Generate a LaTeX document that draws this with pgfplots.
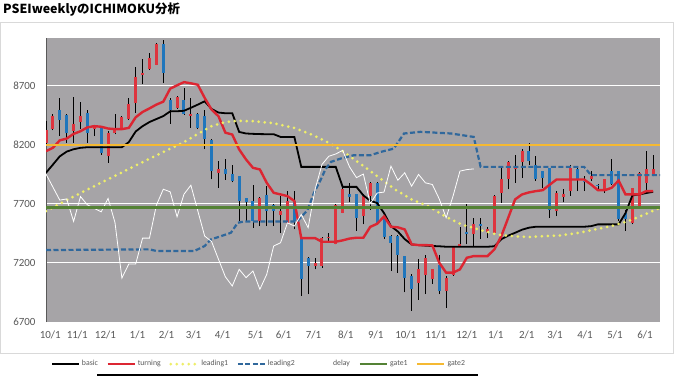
\documentclass[border=0pt]{standalone}
\usepackage{pgfplots}
\usepackage{pgfplotstable}
\pgfplotsset{compat=1.18}
\usepackage{fontspec}
\setmainfont{Carlito}
\newfontfamily\cjk{Noto Sans CJK JP}
\definecolor{bggray}{RGB}{166,164,167}
\definecolor{txtgray}{RGB}{89,89,89}
\definecolor{cred}{RGB}{222,52,62}
\definecolor{cblue}{RGB}{32,118,188}
\definecolor{tred}{RGB}{220,38,50}
\definecolor{lyellow}{RGB}{238,238,105}
\definecolor{lblue}{RGB}{48,104,156}
\definecolor{ggreen}{RGB}{84,130,53}
\definecolor{gorange}{RGB}{245,185,50}

\pgfplotstableread{
i O H L C
0 8210 8400 8200 8320
1 8330 8460 8320 8445
2 8490 8595 8270 8410
3 8450 8460 8215 8300
4 8312 8600 8215 8377
5 8390 8560 8330 8445
6 8470 8490 8215 8300
7 8330 8360 8270 8345
8 8350 8360 8115 8130
9 8100 8310 8045 8300
10 8295 8460 8285 8320
11 8335 8440 8330 8430
12 8415 8595 8410 8540
13 8550 8855 8470 8770
14 8790 8925 8710 8800
15 8840 8970 8830 8930
16 8875 9055 8870 9050
17 9050 9080 8720 8805
18 8580 8595 8375 8495
19 8510 8610 8500 8600
20 8580 8680 8450 8460
21 8445 8595 8340 8460
22 8455 8470 8330 8340
23 8440 8490 8160 8245
24 8240 8245 7905 7975
25 7960 8060 7835 7990
26 7995 8080 7900 7950
27 7950 8030 7880 7890
28 7930 7935 7555 7720
29 7750 7750 7555 7710
30 7720 7855 7495 7555
31 7555 7755 7510 7750
32 7770 7850 7510 7640
33 7690 7695 7510 7640
34 7600 7765 7455 7640
35 7540 7805 7525 7720
36 7720 7805 7483 7555
37 7400 7400 6920 7060
38 7245 7250 6935 7175
39 7175 7245 7145 7200
40 7175 7415 7160 7410
41 7410 7455 7370 7420
42 7360 7695 7355 7690
43 7625 7835 7620 7820
44 7780 7875 7710 7760
45 7780 7780 7470 7580
46 7595 7780 7525 7765
47 7765 7880 7650 7875
48 7875 7880 7525 7540
49 7580 7610 7400 7415
50 7430 7435 7130 7370
51 7430 7435 7115 7270
52 7255 7260 6950 7075
53 7090 7105 6795 6975
54 7030 7235 6890 7145
55 7100 7270 6935 7240
56 7060 7150 7020 7145
57 7185 7270 6935 6960
58 6960 7090 6820 7075
59 7100 7345 7090 7340
60 7340 7500 7340 7360
61 7460 7695 7355 7440
62 7440 7580 7340 7525
63 7525 7580 7400 7510
64 7460 7500 7410 7490
65 7455 7770 7450 7765
66 7790 8005 7705 7905
67 7910 8060 7820 8050
68 7990 8115 7875 8000
69 8050 8160 7920 8145
70 8145 8210 8030 8060
71 8030 8100 7890 7905
72 7975 7975 7835 7920
73 8000 8005 7580 7650
74 7640 7805 7595 7790
75 7760 7820 7710 7780
76 7805 8030 7765 8000
77 7990 8000 7805 7900
78 7890 7935 7805 7880
79 7910 7975 7890 7930
80 7860 7865 7805 7855
81 7820 7905 7790 7905
82 7975 8075 7860 7865
83 7975 7980 7555 7570
84 7620 7650 7470 7570
85 7540 7835 7525 7835
86 7680 7965 7665 7960
87 7875 8145 7780 7990
88 7945 8115 7930 7990
}\candles

\pgfplotstableread{
i basic turning
0 7961 8143
1 8030 8172
2 8100 8235
3 8140 8250
4 8160 8290
5 8172 8312
6 8177 8345
7 8177 8355
8 8177 8350
9 8177 8335
10 8177 8330
11 8177 8330
12 8220 8340
13 8310 8430
14 8355 8475
15 8390 8505
16 8415 8537
17 8440 8562
18 8480 8672
19 8481 8700
20 8485 8727
21 8510 8717
22 8537 8705
23 8565 8594
24 8500 8495
25 8470 8439
26 8464 8300
27 8464 8284
28 8306 8158
29 8293 8073
30 8290 8003
31 8288 7989
32 8287 7876
33 8287 7792
34 8264 7778
35 8264 7764
36 8264 7722
37 8011 7409
38 8011 7409
39 8011 7409
40 8011 7378
41 8011 7378
42 8011 7378
43 7842 7390
44 7842 7405
45 7842 7412
46 7770 7412
47 7725 7504
48 7705 7530
49 7620 7592
50 7510 7505
51 7465 7500
52 7400 7482
53 7355 7356
54 7350 7350
55 7345 7350
56 7342 7347
57 7340 7201
58 7336 7117
59 7336 7117
60 7336 7145
61 7336 7243
62 7336 7257
63 7336 7257
64 7336 7257
65 7340 7314
66 7400 7426
67 7430 7581
68 7454 7736
69 7480 7778
70 7497 7795
71 7505 7806
72 7505 7814
73 7505 7860
74 7505 7904
75 7505 7904
76 7505 7904
77 7505 7904
78 7505 7904
79 7510 7862
80 7525 7814
81 7525 7814
82 7525 7834
83 7525 7896
84 7620 7778
85 7770 7778
86 7778 7778
87 7790 7806
88 7800 7806
}\lines

\pgfplotstableread{
i v
0 7637
5 7790
10 7935
15 8080
20 8220
22 8290
24 8355
26 8390
28 8400
30 8397
33 8380
36 8340
38.5 8284
41 8214
43 8144
45.7 8031
48 7933
50.6 7820
53 7736
55.4 7679
57.8 7595
60.2 7525
62.7 7482
65.3 7440
67.5 7426
70 7418
72.3 7426
74.7 7432
77.2 7454
79.6 7482
82 7511
84.4 7553
86.8 7609
89 7665
}\leadone

\pgfplotstableread{
i v
0 7308
15 7314
16 7300
21.5 7300
23 7342
23.9 7398
25.4 7426
26.8 7454
27.8 7539
28.8 7550
36.4 7550
37.9 7645
38.8 7786
39.8 7900
40.5 7990
41.3 8053
42.7 8081
44.6 8109
47 8109
48.5 8137
50.4 8165
51.9 8293
54.3 8307
58.7 8293
62 8264
63 8011
78 8011
79 7941
89 7941
}\leadtwo

\pgfplotstableread{
i v
0 7950
1 7840
2 7730
3 7740
4 7550
5 7760
6 7690
7 7660
8 7631
9 7744
10 7540
11 7071
12 7190
13 7190
14 7409
15 7409
16 7687
17 7822
18 7800
19 7589
20 7780
21 7856
22 7640
23 7426
24 7380
25 7230
26 7082
27 7004
28 7145
29 7075
30 7131
31 6976
32 7103
33 7342
34 7370
35 7538
36 7511
37 7609
38 7497
39 7820
40 8031
41 8101
42 8120
43 8150
44 8011
45 7920
46 7950
47 7700
48 7790
49 7798
50 8017
51 7898
52 7961
53 7848
54 7947
55 7876
56 7862
57 7740
58 7581
59 7764
60 7975
61 7988
62 7994
}\delay

\begin{document}
\begin{tikzpicture}
\fill[white] (-46bp,-63bp) rectangle (636bp,322bp);
\path[use as bounding box] (-46bp,-63bp) rectangle (636bp,322bp);
\draw[draw={rgb,255:red,217;green,217;blue,217}, line width=1bp] (-45bp,-31bp) rectangle (627bp,299bp);
\node[anchor=west, inner sep=0pt, font=\cjk\bfseries\fontsize{12.5}{14}\selectfont] at (-43bp,312bp) {PSEIweeklyのICHIMOKU分析};
\draw[black, line width=1.2bp] (51bp,-53bp) -- (432bp,-53bp);
\begin{axis}[
  at={(0,0)}, anchor=south west,
  scale only axis, width=614bp, height=284bp,
  xmin=0, xmax=89, ymin=6700, ymax=9100,
  axis background/.style={fill=bggray},
  axis x line*=bottom, axis y line*=left,
  x axis line style={draw=none},
  y axis line style={-, draw=txtgray, line width=0.8bp},
  major tick length=0pt,
  ytick={6700,7200,7700,8200,8700},
  xtick={0.62,4.54,8.61,13.25,17.46,21.38,25.59,30.37,34.44,38.79,43.44,47.79,52.14,56.49,60.99,65.2,69.7,73.77,78.13,82.48,86.83},
  xticklabels={10/1,11/1,12/1,1/1,2/1,3/1,4/1,5/1,6/1,7/1,8/1,9/1,10/1,11/1,12/1,1/1,2/1,3/1,4/1,5/1,6/1},
  /pgf/number format/1000 sep={},
  /pgf/number format/assume math mode=true,
  tick label style={font=\fontsize{11}{13}\selectfont, text=txtgray},
  yticklabel style={xshift=-7bp},
  xticklabel style={yshift=-5bp},
  ymajorgrids, major grid style={white, line width=0.8bp},
  legend columns=7,
  legend image code/.code={\draw[#1] (0bp,0bp) -- (27bp,0bp);},
  legend style={at={(0.0081,-0.148)}, anchor=west, draw=none, fill=none, inner sep=0pt,
    font=\fontsize{7.8}{9}\selectfont, text=txtgray,
    /tikz/every even column/.append style={column sep=6.5bp}},
]
% wicks
\addplot[forget plot, draw=none, mark=none,
  error bars/.cd, y dir=plus, y explicit, error mark=none,
  error bar style={draw=black, line width=0.8bp, solid}]
  table[x=i, y=L, y error expr=\thisrow{H}-\thisrow{L}] {\candles};
% up bodies
\addplot[forget plot, draw=none, mark=none,
  restrict expr to domain={\thisrow{C}-\thisrow{O}}{0:5000},
  error bars/.cd, y dir=plus, y explicit, error mark=none,
  error bar style={draw=cred, line width=3bp, solid}]
  table[x=i, y=O, y error expr=\thisrow{C}-\thisrow{O}] {\candles};
% down bodies
\addplot[forget plot, draw=none, mark=none,
  restrict expr to domain={\thisrow{C}-\thisrow{O}}{-5000:0},
  error bars/.cd, y dir=plus, y explicit, error mark=none,
  error bar style={draw=cblue, line width=3bp, solid}]
  table[x=i, y=C, y error expr=\thisrow{O}-\thisrow{C}] {\candles};

\addplot[black, line width=1.8bp, mark=none] table[x=i, y=basic] {\lines};
\addlegendentry{basic}
\addplot[tred, line width=2.4bp, mark=none] table[x=i, y=turning] {\lines};
\addlegendentry{turning}
\addplot[lyellow, line width=3bp, line cap=round, dash pattern=on 0bp off 6bp, mark=none] table[x=i, y=v] {\leadone};
\addlegendentry{leading1}
\addplot[lblue, line width=2.2bp, dash pattern=on 5bp off 2.5bp, mark=none] table[x=i, y=v] {\leadtwo};
\addlegendentry{leading2}
\addplot[white, line width=0.8bp, mark=none] table[x=i, y=v] {\delay};
\addlegendentry{delay}
\addplot[ggreen, line width=2.8bp, mark=none] coordinates {(0,7665) (89,7665)};
\addlegendentry{gate1}
\addplot[gorange, line width=2.4bp, mark=none] coordinates {(0,8197) (89,8197)};
\addlegendentry{gate2}
\end{axis}
\end{tikzpicture}
\end{document}
